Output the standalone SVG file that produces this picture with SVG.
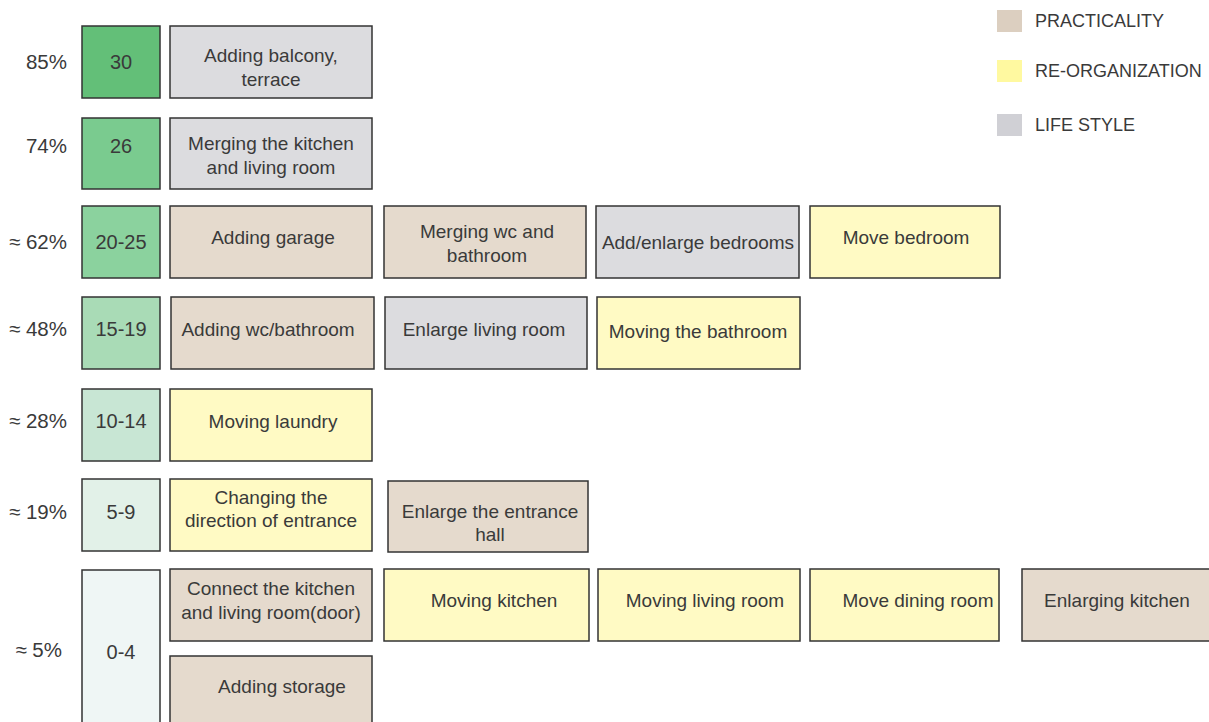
<svg xmlns="http://www.w3.org/2000/svg" width="1209" height="722" viewBox="0 0 1209 722">
<style>
text{font-family:"Liberation Sans",Arial,sans-serif;font-size:19px;fill:#3a3a3a;text-anchor:middle}
.pct{text-anchor:end;font-size:20.5px}
.num{font-size:20px}
.lg{text-anchor:start;font-size:18px}
rect.b{stroke:#333;stroke-width:1.5}
.p{fill:#e5dacd}
.r{fill:#fffac4}
.l{fill:#dcdcdf}
</style>
<rect width="1209" height="722" fill="#fff"/>
<g id="legend">
<rect x="997" y="10" width="25" height="22" fill="#dccfc0"/>
<text class="lg" x="1035" y="27">PRACTICALITY</text>
<rect x="997" y="60" width="25" height="22" fill="#fff9a0"/>
<text class="lg" x="1035" y="77">RE-ORGANIZATION</text>
<rect x="997" y="114" width="25" height="22" fill="#d0d0d5"/>
<text class="lg" x="1035" y="131">LIFE STYLE</text>
</g>
<g id="percents">
<text class="pct" x="67" y="69">85%</text>
<text class="pct" x="67" y="153">74%</text>
<text class="pct" x="67" y="249">≈ 62%</text>
<text class="pct" x="67" y="336">≈ 48%</text>
<text class="pct" x="67" y="428">≈ 28%</text>
<text class="pct" x="67" y="519">≈ 19%</text>
<text class="pct" x="62" y="657">≈ 5%</text>
</g>
<g id="n30"><rect class="b" x="82" y="26" width="78" height="72" fill="#63bf78"/><text class="num" x="121" y="69">30</text></g>
<g id="n26"><rect class="b" x="82" y="118" width="78" height="71" fill="#7acb8f"/><text class="num" x="121" y="153">26</text></g>
<g id="n20"><rect class="b" x="82" y="206" width="78" height="72" fill="#8bd29e"/><text class="num" x="121" y="249">20-25</text></g>
<g id="n15"><rect class="b" x="82" y="297" width="78" height="72" fill="#a9dbb6"/><text class="num" x="121" y="336">15-19</text></g>
<g id="n10"><rect class="b" x="82" y="389" width="78" height="72" fill="#c8e6d4"/><text class="num" x="121" y="428">10-14</text></g>
<g id="n5"><rect class="b" x="82" y="479" width="78" height="72" fill="#e2f1e8"/><text class="num" x="121" y="519">5-9</text></g>
<g id="n0"><rect class="b" x="82" y="570" width="78" height="160" fill="#eff6f5"/><text class="num" x="121" y="659">0-4</text></g>

<g id="balcony"><rect class="b l" x="170" y="26" width="202" height="72"/><text x="271" y="62">Adding balcony,</text><text x="271" y="86">terrace</text></g>
<g id="merge-kitchen"><rect class="b l" x="170" y="118" width="202" height="71"/><text x="271" y="150">Merging the kitchen</text><text x="271" y="174">and living room</text></g>

<g id="garage"><rect class="b p" x="170" y="206" width="202" height="72"/><text x="273" y="244">Adding garage</text></g>
<g id="merge-wc"><rect class="b p" x="384" y="206" width="202" height="72"/><text x="487" y="238">Merging wc and</text><text x="487" y="262">bathroom</text></g>
<g id="bedrooms"><rect class="b l" x="596" y="206" width="203" height="72"/><text x="698" y="249">Add/enlarge bedrooms</text></g>
<g id="move-bedroom"><rect class="b r" x="810" y="206" width="190" height="72"/><text x="906" y="244">Move bedroom</text></g>

<g id="add-wc"><rect class="b p" x="171" y="297" width="203" height="72"/><text x="268" y="336">Adding wc/bathroom</text></g>
<g id="enlarge-living"><rect class="b l" x="385" y="297" width="202" height="72"/><text x="484" y="336">Enlarge living room</text></g>
<g id="move-bath"><rect class="b r" x="597" y="297" width="203" height="72"/><text x="698" y="338">Moving the bathroom</text></g>

<g id="laundry"><rect class="b r" x="170" y="389" width="202" height="72"/><text x="273" y="428">Moving laundry</text></g>

<g id="entrance-dir"><rect class="b r" x="170" y="479" width="202" height="72"/><text x="271" y="504">Changing the</text><text x="271" y="527">direction of entrance</text></g>
<g id="entrance-hall"><rect class="b p" x="388" y="481" width="200" height="71"/><text x="490" y="518">Enlarge the entrance</text><text x="490" y="541">hall</text></g>

<g id="connect"><rect class="b p" x="170" y="569" width="202" height="72"/><text x="271" y="595">Connect the kitchen</text><text x="271" y="619">and living room(door)</text></g>
<g id="move-kitchen"><rect class="b r" x="384" y="569" width="205" height="72"/><text x="494" y="607">Moving kitchen</text></g>
<g id="move-living"><rect class="b r" x="598" y="569" width="202" height="72"/><text x="705" y="607">Moving living room</text></g>
<g id="move-dining"><rect class="b r" x="810" y="569" width="189" height="72"/><text x="918" y="607">Move dining room</text></g>
<g id="enlarge-kitchen"><rect class="b p" x="1022" y="569" width="200" height="72"/><text x="1117" y="607">Enlarging kitchen</text></g>
<g id="storage"><rect class="b p" x="170" y="656" width="202" height="80"/><text x="282" y="693">Adding storage</text></g>
<g id="connectors"/>
</svg>
